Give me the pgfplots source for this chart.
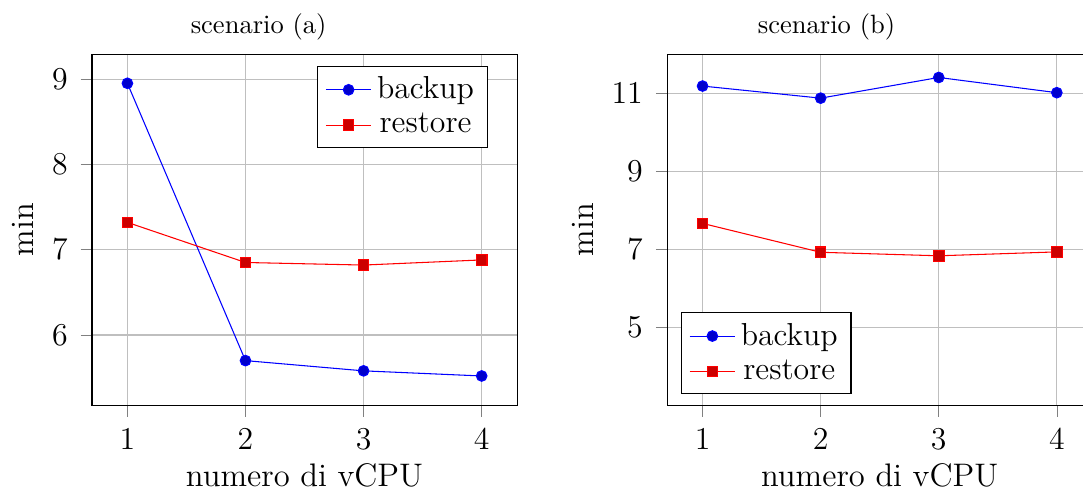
\documentclass[border=0pt]{standalone}
\usepackage{pgfplots}
\pgfplotsset{compat=1.18}
\usetikzlibrary{calc}
\begin{document}
\begin{tikzpicture}
\pgfplotsset{
  every axis/.style={
    scale only axis,
    width=160.4pt, height=132.5pt,
    xmin=0.7, xmax=4.3,
    xtick={1,2,3,4},
    grid=major,
    tick align=outside,
    xtick pos=bottom, ytick pos=left,
    xlabel={numero di vCPU},
    ylabel={min},
    tick label style={font=\large},
    xticklabel style={yshift=-1pt},
    yticklabel style={xshift=-1.4pt},
    label style={font=\fontsize{12.3}{15}\selectfont},
    xlabel style={at={(rel axis cs:0.5,-0.2322)}, anchor=base},
    legend style={font=\large},
    title style={font=\normalsize, anchor=south, yshift=-4.2pt},
  }
}
\begin{axis}[name=A,
  title={scenario (a)},
  title style={at={(0.392,1)}},
  ylabel style={at={(rel axis cs:-0.1376,0.5)}, anchor=base},
  ytick={6,7,8,9},
  legend style={at={(0.931,0.967)}, anchor=north east},
]
\addplot coordinates {(1,8.95) (2,5.70) (3,5.58) (4,5.52)};
\addlegendentry{backup}
\addplot coordinates {(1,7.32) (2,6.85) (3,6.82) (4,6.88)};
\addlegendentry{restore}
\end{axis}
\begin{axis}[name=B,
  at={($(A.south east)+(56.6pt,0)$)}, anchor=south west,
  title={scenario (b)},
  title style={at={(0.375,1)}},
  ylabel style={at={(rel axis cs:-0.1743,0.5)}, anchor=base},
  ymin=3, ymax=12,
  ytick={5,7,9,11},
  legend style={at={(0.032,0.031)}, anchor=south west},
]
\addplot coordinates {(1,11.18) (2,10.87) (3,11.40) (4,11.01)};
\addlegendentry{backup}
\addplot coordinates {(1,7.66) (2,6.92) (3,6.83) (4,6.93)};
\addlegendentry{restore}
\end{axis}
\pgfresetboundingbox
\path[use as bounding box] ($(A.south west)+(-34.7pt,-32.1pt)$) rectangle ($(B.north west)+(156.9pt,20.4pt)$);
\end{tikzpicture}
\end{document}
